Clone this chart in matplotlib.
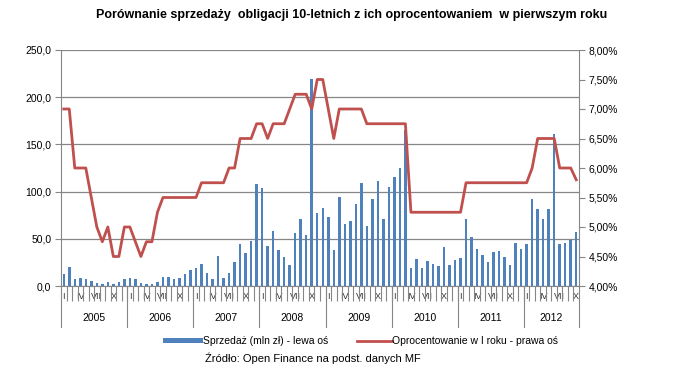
import numpy as np
import matplotlib
matplotlib.use("Agg")
from matplotlib import pyplot as plt
from matplotlib.patches import Rectangle
from matplotlib.lines import Line2D
import matplotlib.transforms as mtransforms

plt.rcParams['font.family'] = ['Liberation Sans', 'DejaVu Sans']

lata = ['2005', '2006', '2007', '2008', '2009', '2010', '2011', '2012']
miesiace_rzymskie = {0: 'I', 3: 'IV', 6: 'VII', 9: 'X'}

# sprzedaz w mln zl, miesiecznie od I 2005 do X 2012
sprzedaz = [
    13, 20, 7, 8, 7, 5, 3, 2, 4, 2, 4, 7,
    9, 7, 3, 2, 2, 4, 10, 10, 7, 9, 13, 17,
    19, 23, 14, 7, 32, 9, 14, 25, 44, 35, 48, 108,
    104, 42, 58, 38, 31, 22, 56, 71, 54, 219, 77, 83,
    73, 38, 94, 66, 69, 87, 109, 64, 92, 111, 71, 105,
    115, 125, 165, 19, 29, 19, 27, 23, 21, 41, 22, 28,
    30, 71, 52, 39, 33, 25, 36, 37, 31, 22, 46, 39,
    44, 92, 82, 71, 82, 161, 45, 46, 49, 57,
]

# oprocentowanie w pierwszym roku (%)
oprocentowanie = [
    7.0, 7.0, 6.0, 6.0, 6.0, 5.5, 5.0, 4.75, 5.0, 4.5, 4.5, 5.0,
    5.0, 4.75, 4.5, 4.75, 4.75, 5.25, 5.5, 5.5, 5.5, 5.5, 5.5, 5.5,
    5.5, 5.75, 5.75, 5.75, 5.75, 5.75, 6.0, 6.0, 6.5, 6.5, 6.5, 6.75,
    6.75, 6.5, 6.75, 6.75, 6.75, 7.0, 7.25, 7.25, 7.25, 7.0, 7.5, 7.5,
    7.0, 6.5, 7.0, 7.0, 7.0, 7.0, 7.0, 6.75, 6.75, 6.75, 6.75, 6.75,
    6.75, 6.75, 6.75, 5.25, 5.25, 5.25, 5.25, 5.25, 5.25, 5.25, 5.25, 5.25,
    5.25, 5.75, 5.75, 5.75, 5.75, 5.75, 5.75, 5.75, 5.75, 5.75, 5.75, 5.75,
    5.75, 6.0, 6.5, 6.5, 6.5, 6.5, 6.0, 6.0, 6.0, 5.8,
]

niebieski = '#4F81BD'
czerwony = '#C0504D'
szary = '#868686'

n = len(sprzedaz)
x = np.arange(n)
W, H = 684, 377

fig = plt.figure(figsize=(6.84, 3.77), dpi=100)
ax = fig.add_axes([61/W, 1 - 286/H, (579 - 61)/W, (286 - 50)/H])
ax2 = ax.twinx()

ax.bar(x, sprzedaz, width=0.45, color=niebieski, zorder=2)
ax.set_ylim(0, 250)
ax.set_yticks(np.arange(0, 251, 50))
ax.set_yticklabels([f'{v:.1f}'.replace('.', ',') for v in np.arange(0, 251, 50)], fontsize=7.5)
ax.yaxis.grid(True, color=szary, linewidth=0.9)
ax.set_axisbelow(True)
ax.set_xlim(-0.5, n - 0.5)

ax2.plot(x, oprocentowanie, color=czerwony, linewidth=2.0, zorder=3)
ax2.set_ylim(4.0, 8.0)
ax2.set_yticks(np.arange(4.0, 8.01, 0.5))
ax2.set_yticklabels([f'{v:.2f}%'.replace('.', ',') for v in np.arange(4.0, 8.01, 0.5)], fontsize=7.5)

for a in (ax, ax2):
    for s in a.spines.values():
        s.set_visible(False)
    a.tick_params(axis='y', length=4, color=szary, pad=3)

ax.spines['left'].set_visible(True)
ax.spines['left'].set_color(szary)
ax2.spines['right'].set_visible(True)
ax2.spines['right'].set_color(szary)
ax.spines['bottom'].set_visible(True)
ax.spines['bottom'].set_color(szary)

# os X: miesiace
ax.set_xticks([i for i in x if i % 12 in miesiace_rzymskie])
ax.set_xticklabels([miesiace_rzymskie[i % 12] for i in x if i % 12 in miesiace_rzymskie],
                   fontsize=6.5, color='#333333')
ax.tick_params(axis='x', length=0, pad=4)
ax.set_xticks(np.arange(0.5, n - 0.5, 1), minor=True)
ax.tick_params(axis='x', which='minor', length=11, color=szary, width=0.8)

trans = mtransforms.blended_transform_factory(ax.transData, ax.transAxes)
for k in range(len(lata) + 1):
    xs = min(12 * k - 0.5, n - 0.5)
    ax.plot([xs, xs], [0, -0.175], transform=trans, color=szary, linewidth=0.8, clip_on=False)
for k, rok in enumerate(lata):
    srodek = (12 * k - 0.5 + min(12 * k + 11.5, n - 0.5)) / 2
    ax.text(srodek, -0.135, rok, transform=trans, ha='center', va='center', fontsize=7.5)

fig.text(352/W, 1 - 15/H, 'Porównanie sprzedaży  obligacji 10-letnich z ich oprocentowaniem  w pierwszym roku',
         ha='center', va='center', fontsize=9, fontweight='bold')

# legenda rysowana recznie
fig.patches.append(Rectangle((163/W, 1 - 343/H), 40/W, 5/H, transform=fig.transFigure,
                             facecolor=niebieski, edgecolor='none'))
fig.text(203/W, 1 - 341/H, 'Sprzedaż (mln zł) - lewa oś', ha='left', va='center', fontsize=7.5)
fig.lines.append(Line2D([357/W, 392/W], [1 - 341/H, 1 - 341/H], transform=fig.transFigure,
                        color=czerwony, linewidth=2))
fig.text(392/W, 1 - 341/H, 'Oprocentowanie w I roku - prawa oś', ha='left', va='center', fontsize=7.5)
fig.text(205/W, 1 - 358/H, 'Źródło: Open Finance na podst. danych MF', ha='left', va='center', fontsize=8)

fig.savefig('out.png', dpi=100)
